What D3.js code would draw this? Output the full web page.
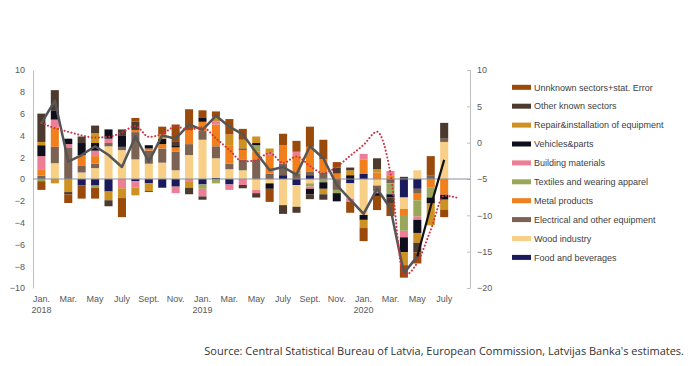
<!DOCTYPE html>
<html>
<head>
<meta charset="utf-8">
<script src="https://cdn.jsdelivr.net/npm/d3@7"></script>
<style>
  body { margin: 0; background: #fff; }
  svg text { font-family: "Liberation Sans", Arial, sans-serif; }
</style>
</head>
<body>
<div id="chart"></div>
<script>
// months Jan 2018 .. Aug 2020 (bars end in July 2020)
const months = ['Jan.','Feb.','Mar.','Apr.','May','June','July','Aug.','Sept.','Oct.','Nov.','Dec.',
  'Jan.','Feb.','Mar.','Apr.','May','June','July','Aug.','Sept.','Oct.','Nov.','Dec.',
  'Jan.','Feb.','Mar.','Apr.','May','June','July','Aug.']
const years = {0: '2018', 12: '2019', 24: '2020'}

// contributions, percentage points (left axis)
const food   = [0,0,0,-0.6,-0.6,-1.15,0,-0.2,-0.4,-0.8,-0.7,0,-0.5,0.1,-0.5,0,0,0,0.35,-0.55,0.35,0,0,-0.4,0.5,0,0,-1.7,-0.9,0,0]
const wood   = [0,1.45,0,0.6,1.0,3.0,2.65,1.8,1.4,1.5,0.8,2.2,3.6,1.8,0.9,0.8,-1.0,-0.4,-2.4,-2.0,-0.4,0,0,-1.4,-3.3,-0.6,0,-1.05,0.8,0,3.4]
const elec   = [0.3,1.5,2.9,0.6,0.4,0.3,0.3,2.5,1.2,1.3,1.7,1.0,0.8,1.1,0.5,1.0,1.8,0.5,1.05,0.5,0.3,0.6,-1.0,0,0,-0.5,-0.4,0,-0.45,0.35,0.3]
const metal  = [0.6,1.8,0,1.0,0.7,0,0,0.2,0.2,0.4,0.4,1.3,0.85,2.0,1.7,0.9,0.7,1.7,1.7,1.6,2.3,1.2,0.5,0,1.3,0.6,0.35,-0.55,-0.6,-0.8,-1.45]
const textil = [-0.2,0,0,0,-0.2,0,0,0,0,0,0,0,-0.4,-0.4,0,0,0.6,0,0,0,-0.3,-0.3,-0.3,0,0,0,-1.0,-1.45,-1.5,-0.9,0]
const build  = [1.2,0.7,0.3,0,0.5,0.4,-0.85,-0.6,0,0,-0.6,-0.2,-0.7,0.3,-0.5,-0.55,-0.3,0.2,0,0.4,-0.2,0,0,-0.3,0.5,-0.2,0.4,-0.6,-0.3,0,0]
const vehic  = [1.0,0.85,0.5,1.1,0.7,0.85,1.0,0,0.3,0.5,0.2,0,0.35,0,0,0.1,0.2,-0.5,0,0,-0.5,-0.6,-0.75,0.35,-0.45,-0.25,-0.3,-1.35,-1.2,-0.55,-0.45]
const repair = [0.3,-0.4,-1.2,0,0.9,-0.8,-0.9,-0.7,-0.7,0.4,0,-0.6,0,0.4,1.0,0.8,0.6,0.4,0,0,0,-0.5,0,0.45,-0.75,0.3,0,-1.2,-0.9,-2.0,-0.9]
const other  = [2.6,1.85,-0.2,0.6,0.7,-0.55,0.6,0.75,0,0,0.3,-0.6,-0.3,0,0,-0.3,-0.4,0,-0.8,-0.55,-0.45,-0.5,0.55,0.25,0,1.0,-0.5,0.2,-0.9,0,1.45]
const unknown= [-0.8,0,-0.8,-1.2,-1.0,0,-1.75,0.35,-0.1,0.7,1.6,1.9,0.7,0.5,1.4,1.0,0,-1.2,1.05,1.0,1.85,1.8,0.5,-1.0,-1.2,-1.3,-1.2,-1.15,-1.0,1.75,-0.7]

// total manufacturing output growth (left axis)
const total = [5.1,7.2,1.6,2.2,3.0,2.2,1.1,3.9,1.6,4.0,3.7,5.0,4.5,5.8,4.8,4.1,2.4,0.8,1.1,0.4,3.0,1.9,-0.55,-1.9,-3.2,-0.9,-2.7,-8.65,-7.1,-2.5,1.75]
// red dotted line (right axis)
const confidence = [2.7,2.0,1.5,1.0,0.7,0.8,1.4,2.3,0.8,1.2,2.2,1.8,2.1,0.6,-1.0,-2.6,-2.4,-1.4,-2.8,-1.9,-3.2,-4.2,-3.3,-1.8,-0.3,1.5,-4.2,-18.3,-16.5,-12.0,-7.3,-7.6]

const series = [
  {key: 'food',    name: 'Food and beverages',                 color: '#1b1a5c', values: food},
  {key: 'wood',    name: 'Wood industry',                      color: '#f7cf86', values: wood},
  {key: 'elec',    name: 'Electrical and other equipment',     color: '#7b6252', values: elec},
  {key: 'metal',   name: 'Metal products',                     color: '#f07f1c', values: metal},
  {key: 'textil',  name: 'Textiles and wearing apparel',       color: '#9aa75a', values: textil},
  {key: 'build',   name: 'Building materials',                 color: '#ec7f95', values: build},
  {key: 'vehic',   name: 'Vehicles&parts',                     color: '#0e0e1c', values: vehic},
  {key: 'repair',  name: 'Repair&installation of equipment',   color: '#cd9221', values: repair},
  {key: 'other',   name: 'Other known sectors',                color: '#4b3a2d', values: other},
  {key: 'unknown', name: 'Unnknown sectors+stat. Error',       color: '#9a4a0b', values: unknown}
]

const width = 697, height = 366
const svg = d3.select('#chart').append('svg')
  .attr('width', width).attr('height', height)

const x = d3.scaleBand().domain(d3.range(months.length)).range([32, 467]).padding(0.4)
const yL = d3.scaleLinear().domain([-10, 10]).range([288, 70])
const yR = d3.scaleLinear().domain([-20, 10]).range([288, 70])
const cx = i => x(i) + x.bandwidth() / 2

// table for the stack
const table = total.map((t, i) => {
  const row = {i: i}
  series.forEach(s => row[s.key] = s.values[i])
  return row
})
const stack = d3.stack().keys(series.map(s => s.key)).offset(d3.stackOffsetDiverging)
const layers = stack(table)

// left axis
const gL = svg.append('g').attr('transform', 'translate(33,0)')
  .call(d3.axisLeft(yL).tickValues(d3.range(-10, 11, 2)).tickSize(0).tickPadding(8))
gL.select('.domain').attr('stroke', '#bfbfbf')
gL.selectAll('text').attr('fill', '#595959').attr('font-size', 9)

// right axis
const gR = svg.append('g').attr('transform', 'translate(470,0)')
  .call(d3.axisRight(yR).tickValues(d3.range(-20, 11, 5)).tickSize(-3).tickPadding(7))
gR.select('.domain').attr('stroke', '#bfbfbf')
gR.selectAll('line').attr('stroke', '#bfbfbf')
gR.selectAll('text').attr('fill', '#595959').attr('font-size', 9)

// bars
svg.append('g').selectAll('g')
  .data(layers)
  .join('g')
  .attr('fill', (d, i) => series[i].color)
  .selectAll('rect')
  .data(d => d)
  .join('rect')
  .attr('x', d => x(d.data.i))
  .attr('width', x.bandwidth())
  .attr('y', d => yL(Math.max(d[0], d[1])))
  .attr('height', d => Math.abs(yL(d[0]) - yL(d[1])))

// zero line
svg.append('line')
  .attr('x1', 33).attr('x2', 470)
  .attr('y1', yL(0)).attr('y2', yL(0))
  .attr('stroke', '#8590a3').attr('stroke-width', 1.2)

// total line: grey, last months black
const line = d3.line().x((d, i) => cx(i)).y(d => yL(d))
svg.append('path')
  .attr('d', line(total.slice(0, 29)))
  .attr('fill', 'none').attr('stroke', '#555555').attr('stroke-width', 2.5)
  .attr('stroke-linejoin', 'round')
svg.append('path')
  .datum(total.slice(28))
  .attr('d', d3.line().x((d, i) => cx(i + 28)).y(d => yL(d)))
  .attr('fill', 'none').attr('stroke', '#111111').attr('stroke-width', 2.2)

// red dotted line on right axis
svg.append('path')
  .attr('d', d3.line().curve(d3.curveMonotoneX).x((d, i) => cx(i)).y(d => yR(d))(confidence))
  .attr('fill', 'none').attr('stroke', '#cc3344').attr('stroke-width', 2)
  .attr('stroke-dasharray', '0.1,3.4').attr('stroke-linecap', 'round')

// x labels
const xl = svg.append('g')
months.forEach((m, i) => {
  if (i % 2 !== 0 || i > 30) return
  xl.append('text').attr('x', cx(i)).attr('y', 302)
    .attr('text-anchor', 'middle').attr('font-size', 9).attr('fill', '#595959').text(m)
  if (years[i]) {
    xl.append('text').attr('x', cx(i)).attr('y', 313)
      .attr('text-anchor', 'middle').attr('font-size', 9).attr('fill', '#595959').text(years[i])
  }
})

// legend
const legend = svg.append('g')
series.slice().reverse().forEach((s, k) => {
  const yy = 87.3 + k * 18.9
  legend.append('rect').attr('x', 512).attr('y', yy - 2.5).attr('width', 19).attr('height', 5).attr('fill', s.color)
  legend.append('text').attr('x', 534).attr('y', yy + 3.2)
    .attr('font-size', 9).attr('fill', '#404040').text(s.name)
})

// source
svg.append('text')
  .attr('x', 684).attr('y', 355)
  .attr('text-anchor', 'end')
  .style('font-family', '"Open Sans", sans-serif')
  .attr('font-size', 11).attr('fill', '#333')
  .text("Source: Central Statistical Bureau of Latvia, European Commission, Latvijas Banka's estimates.")
</script>
</body>
</html>
